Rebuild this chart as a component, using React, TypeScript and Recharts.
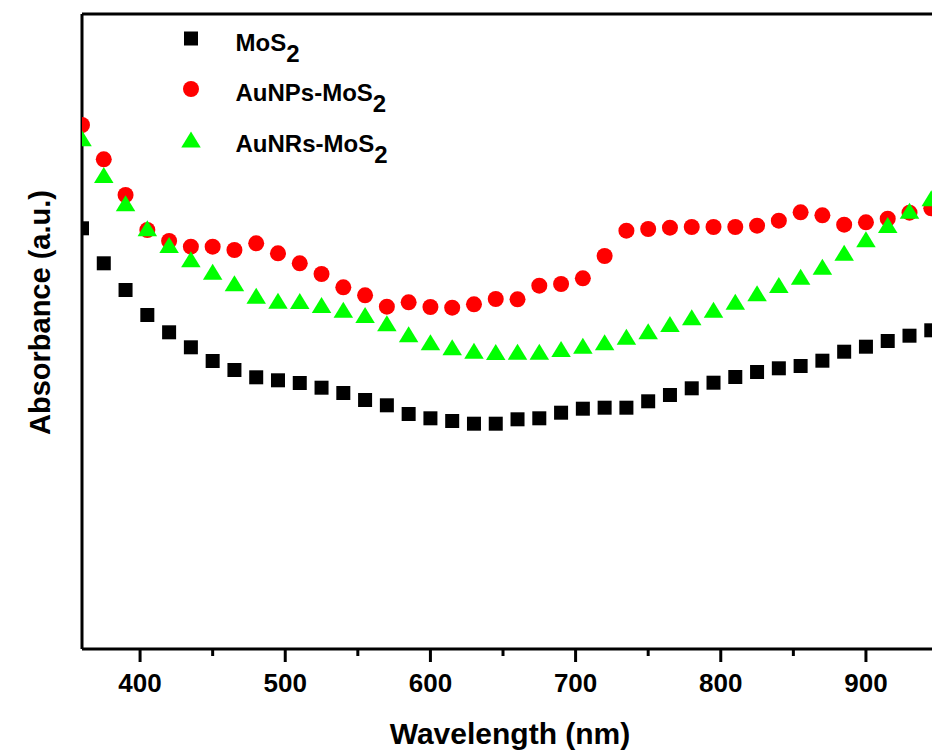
import React from 'react';
import { ScatterChart, Scatter, XAxis, YAxis, ReferenceLine, Legend } from 'recharts';

// wavelengths (nm) sampled every 15 nm
const wavelengths = [
  360, 375, 390, 405, 420, 435, 450, 465, 480, 495, 510, 525, 540, 555, 570, 585, 600, 615, 630, 645,
  660, 675, 690, 705, 720, 735, 750, 765, 780, 795, 810, 825, 840, 855, 870, 885, 900, 915, 930, 945,
];

// absorbance, arbitrary units (0 = bottom of frame, 635 = top)
const mos2 = [
  420.7, 385.7, 359, 334, 316.7, 301.7, 288, 279, 271.7, 268.7, 266, 261.3, 256, 249, 243.7, 235, 230.7, 228, 225.3, 225.3,
  229.7, 230.7, 236.3, 240.3, 241.3, 241.3, 247.7, 254, 260.7, 266.3, 272, 277, 280.7, 283, 288.3, 297.3, 302.3, 308, 313.3, 318.7,
];
const auNPs = [
  524, 489.7, 454, 419, 408, 402.3, 402.3, 399, 405.7, 395.7, 385.7, 375, 361.7, 353.7, 342.3, 346.7, 342, 341.3, 344.7, 350,
  349.7, 363.3, 365, 370.7, 393, 418.3, 420, 421.3, 422, 422, 422, 423.3, 428.3, 436.7, 433.7, 424.3, 426.7, 430.3, 436.3, 440.7,
];
const auNRs = [
  510.7, 474, 445.7, 420.7, 404, 389.7, 377.3, 365.7, 353.3, 348.3, 348, 344, 339.3, 334, 325.7, 314.7, 306.7, 301.7, 298.3, 297,
  297.3, 297.3, 300, 303.3, 306.7, 312.3, 317.7, 325, 331.7, 339.3, 347.3, 355.7, 364, 372.3, 382.3, 396.3, 409.7, 424, 438.3, 450.7,
];

const seriesNames = ['MoS2', 'AuNPs-MoS2', 'AuNRs-MoS2'];
const xTicks = [400, 450, 500, 550, 600, 650, 700, 750, 800, 850, 900];

const FONT = "'Liberation Sans', Arial, sans-serif";

const toPoints = (vals: number[]) => wavelengths.map((w, i) => ({ x: w, y: vals[i] }));

const Square = ({ cx, cy }: any) => <rect x={cx - 7} y={cy - 7} width={14} height={14} fill="#000000" />;
const Dot = ({ cx, cy }: any) => <circle cx={cx} cy={cy} r={8} fill="#ff0000" />;
const Tri = ({ cx, cy }: any) => (
  <path d={`M ${cx} ${cy - 8} L ${cx + 9.75} ${cy + 8} L ${cx - 9.75} ${cy + 8} Z`} fill="#00ff00" />
);

const markers: Record<string, any> = { MoS2: Square, 'AuNPs-MoS2': Dot, 'AuNRs-MoS2': Tri };

// major ticks every 100 nm get a label, minor ones in between are shorter
const XTick = ({ x, y, payload }: any) => {
  const major = payload.value % 100 === 0;
  return (
    <g>
      <line x1={x} x2={x} y1={y} y2={y + (major ? 13 : 7)} stroke="#000" strokeWidth={3} />
      {major && (
        <text x={x} y={y + 43} textAnchor="middle" fontFamily={FONT} fontWeight="bold" fontSize={26} fill="#000">
          {payload.value}
        </text>
      )}
    </g>
  );
};

const LegendBox = ({ payload }: any) => {
  const items = (payload || [])
    .filter((p: any) => seriesNames.includes(p.value))
    .sort((a: any, b: any) => seriesNames.indexOf(a.value) - seriesNames.indexOf(b.value));
  return (
    <svg width={460} height={170} style={{ overflow: 'visible' }}>
      {items.map((p: any, i: number) => {
        const Mark = markers[p.value];
        const cy = 38.5 + i * 50.5;
        return (
          <g key={p.value}>
            <Mark cx={191} cy={cy} />
            <text x={235.5} y={cy + 12} fontFamily={FONT} fontWeight="bold" fontSize={24} fill="#000">
              {p.value.slice(0, -1)}
              <tspan dy={11}>{p.value.slice(-1)}</tspan>
            </text>
          </g>
        );
      })}
    </svg>
  );
};

export default function App() {
  return (
    <div style={{ position: 'absolute', left: 0, top: 0, width: 932, height: 754, background: '#fff' }}>
      <ScatterChart width={932} height={754} margin={{ top: 14, right: 0, bottom: 0, left: 0 }}>
        <XAxis
          type="number"
          dataKey="x"
          domain={[360, 945.5]}
          allowDataOverflow
          ticks={xTicks}
          interval={0}
          tick={<XTick />}
          tickLine={false}
          tickSize={0}
          tickMargin={0}
          height={105}
          axisLine={{ stroke: '#000', strokeWidth: 3 }}
          label={() => (
            <text x={510} y={743.5} textAnchor="middle" fontFamily={FONT} fontWeight="bold" fontSize={30} fill="#000">
              Wavelength (nm)
            </text>
          )}
        />
        <YAxis
          type="number"
          dataKey="y"
          domain={[0, 635]}
          allowDataOverflow
          width={82}
          tick={false}
          tickLine={false}
          axisLine={{ stroke: '#000', strokeWidth: 3 }}
          label={() => (
            <text
              x={50}
              y={312.5}
              transform="rotate(-90, 50, 312.5)"
              textAnchor="middle"
              fontFamily={FONT}
              fontWeight="bold"
              fontSize={29}
              fill="#000"
            >
              Absorbance (a.u.)
            </text>
          )}
        />
        <ReferenceLine y={635} stroke="#000" strokeWidth={3} />
        <Legend
          layout="vertical"
          align="center"
          verticalAlign="middle"
          width={460}
          height={170}
          wrapperStyle={{ left: 0, top: 0, width: 460 }}
          content={<LegendBox />}
        />
        <Scatter name={seriesNames[0]} data={toPoints(mos2)} fill="#000000" shape={<Square />} isAnimationActive={false} />
        <Scatter name={seriesNames[1]} data={toPoints(auNPs)} fill="#ff0000" shape={<Dot />} isAnimationActive={false} />
        <Scatter name={seriesNames[2]} data={toPoints(auNRs)} fill="#00ff00" shape={<Tri />} isAnimationActive={false} />
      </ScatterChart>
    </div>
  );
}
